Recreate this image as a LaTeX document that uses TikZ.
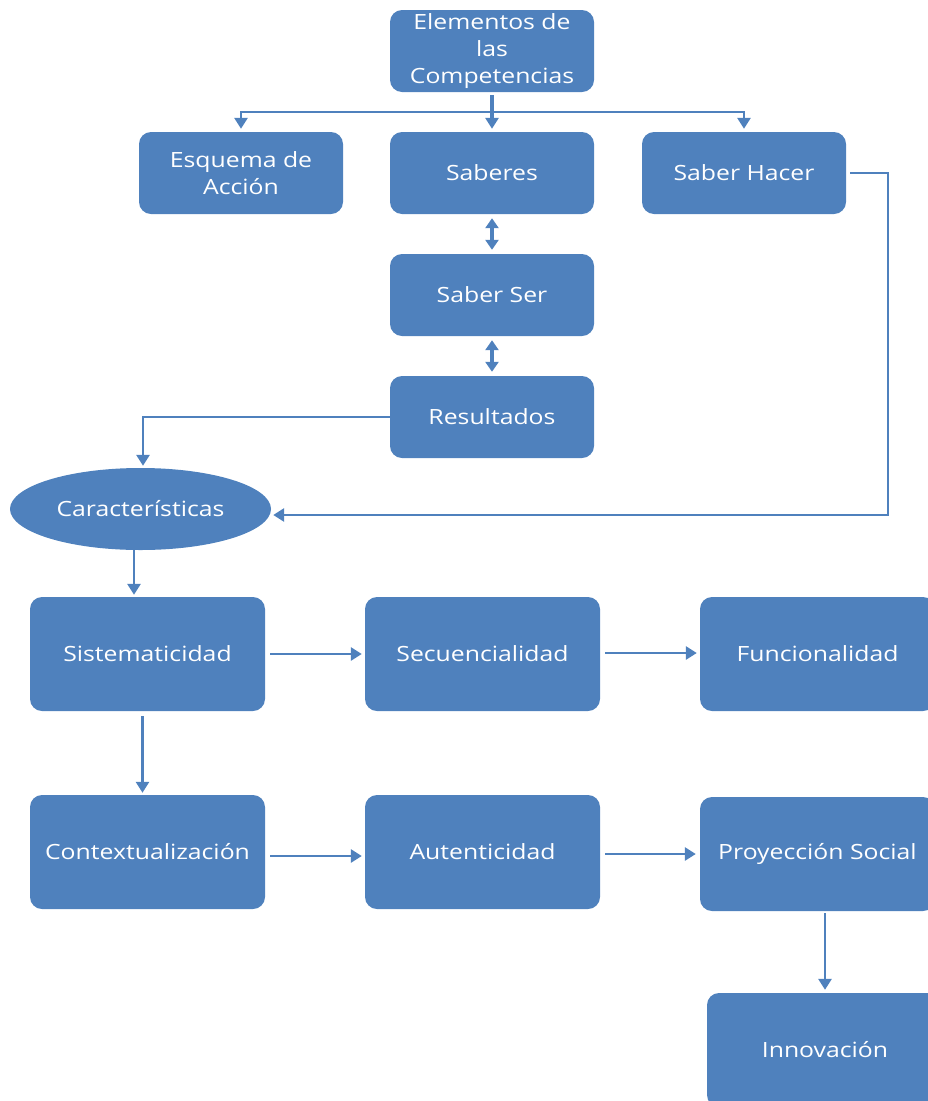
\documentclass[tikz,border=0pt]{standalone}
\usepackage{fontspec}
\setmainfont[FakeStretch=1.18]{Open Sans}
\usetikzlibrary{arrows.meta,shapes.geometric}
\definecolor{officeblue}{HTML}{4F81BD}
\tikzset{
  box/.style={rectangle, rounded corners=12pt, fill=officeblue, draw=none,
    text=white, align=center, font=\fontsize{21}{27}\selectfont,
    minimum width=204pt, minimum height=82pt, inner sep=0pt},
  bigbox/.style={box, minimum width=235pt, minimum height=114pt},
  oval/.style={ellipse, fill=officeblue, draw=none, text=white,
    font=\fontsize{21}{27}\selectfont, minimum width=261pt, minimum height=82pt, inner sep=0pt},
  link/.style={draw=officeblue, line width=2.8pt},
  arr/.style={link, -{Triangle[length=11pt,width=13pt]}},
  darr/.style={link, line width=3.5pt, {Triangle[length=10pt,width=13pt]}-{Triangle[length=10pt,width=13pt]}}
}
\begin{document}
\begin{tikzpicture}[x=1pt,y=-1pt]
\useasboundingbox (0,0) rectangle (928,1101);
\clip (0,0) rectangle (928,1101);

% top group: elements of competencies
\node[box] (elem) at (492,51) {Elementos de\\las\\Competencias};
\node[box] (esq) at (241,173) {Esquema de\\Acción};
\node[box] (sab) at (492,173) {Saberes};
\node[box] (hac) at (744,173) {Saber Hacer};
\node[box] (ser) at (492,295) {Saber Ser};
\node[box] (res) at (492,417) {Resultados};

% characteristics
\node[oval] (car) at (140.5,509) {Características};
\node[bigbox] (sis) at (147.5,654) {Sistematicidad};
\node[bigbox] (sec) at (482.5,654) {Secuencialidad};
\node[bigbox] (fun) at (817.5,654) {Funcionalidad};
\node[bigbox] (con) at (147.5,852) {Contextualización};
\node[bigbox] (aut) at (482.5,852) {Autenticidad};
\node[bigbox] (pro) at (817.5,854) {Proyección Social};
\node[bigbox, minimum width=236pt] (inn) at (825,1050) {Innovación};

% branching from the top box
\coordinate (bus) at (492,112);
\draw[arr, line width=3.8pt, shorten <=3pt, shorten >=3pt] (elem.south) -- (sab.north);
\draw[arr, shorten >=3pt] (bus) -| (esq.north);
\draw[arr, shorten >=3pt] (bus) -| (hac.north);

% two-way links in the central column
\draw[darr, shorten <=4pt, shorten >=4pt] (sab.south) -- (ser.north);
\draw[darr, shorten <=4pt, shorten >=4pt] (ser.south) -- (res.north);

% links into the oval
\draw[arr, shorten >=2pt] (res.west) -| ([xshift=2.5pt]car.north);
\coordinate (rt) at (888,515);
\draw[arr, shorten <=4pt, shorten >=2pt] (hac.east) -| (rt) -- (car.east |- rt);

% characteristics grid
\draw[arr, shorten >=2pt] ([xshift=-6.5pt]car.south) -- ([xshift=-6.5pt]car.south |- sis.north);
\draw[arr, shorten <=5pt, shorten >=3pt] (sis.east) -- (sec.west);
\draw[arr, shorten <=5pt, shorten >=3pt] ([yshift=1pt]sec.east) -- ([yshift=1pt]fun.west);
\draw[arr, shorten <=5pt, shorten >=2pt] ([xshift=-5pt]sis.south) -- ([xshift=-5pt]con.north);
\draw[arr, shorten <=5pt, shorten >=3pt] ([yshift=-4pt]con.east) -- ([yshift=-4pt]aut.west);
\draw[arr, shorten <=5pt, shorten >=4pt] ([yshift=-2pt]aut.east) -- ([yshift=-2pt]aut.east -| pro.west);
\draw[arr, shorten <=2pt, shorten >=3pt] (inn.north |- pro.south) -- (inn.north);
\end{tikzpicture}
\end{document}
